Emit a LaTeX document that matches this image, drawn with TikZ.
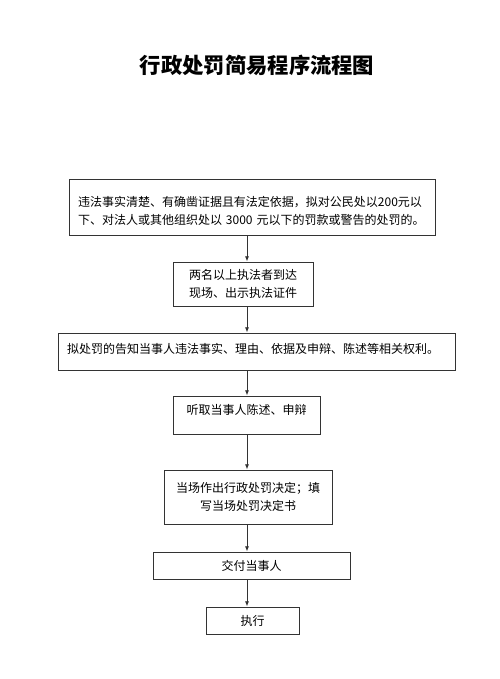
\documentclass[tikz,border=0pt]{standalone}
\usepackage{fontspec}
\setmainfont{Noto Sans CJK SC}
\usetikzlibrary{arrows.meta}

\tikzset{
    stepbox/.style={draw=black!80, line width=0.6pt, inner xsep=6.5pt, font=\fontsize{9}{13.5}\selectfont},
    flow/.style={-{Latex[length=4pt,width=3pt]}, line width=0.6pt, black!80}
}

\begin{document}
\begin{tikzpicture}[x=0.75pt, y=-0.75pt]
    \useasboundingbox (0,0) rectangle (500,679);

    % Title
    \node (title) at (257,65) {\fontsize{16}{16}\selectfont\bfseries 行政处罚简易程序流程图};

    % Boxes
    \node[stepbox, minimum width=274.5pt, minimum height=42pt, text width=261pt, align=left, text depth=9pt] (facts) at (252,207)
        {违法事实清楚、有确凿证据且有法定依据，拟对公民处以200元以\\下、对法人或其他组织处以 3000 元以下的罚款或警告的处罚的。};
    \node[stepbox, minimum width=105pt, minimum height=33pt, align=center] (arrive) at (243,284)
        {两名以上执法者到达\\现场、出示执法证件};
    \node[stepbox, minimum width=297.75pt, minimum height=27.75pt, text width=284pt, align=left, text depth=5pt] (inform) at (256.5,351.5)
        {拟处罚的告知当事人违法事实、理由、依据及申辩、陈述等相关权利。};
    \node[stepbox, minimum width=110.25pt, minimum height=28.5pt, align=center, text depth=9pt] (hear) at (246.5,415)
        {听取当事人陈述、申辩};
    \node[stepbox, minimum width=126pt, minimum height=40.5pt, align=center] (decide) at (248,497)
        {当场作出行政处罚决定；填\\写当场处罚决定书};
    \node[stepbox, minimum width=147.75pt, minimum height=20.25pt] (deliver) at (251.5,565.5)
        {交付当事人};
    \node[stepbox, minimum width=69.75pt, minimum height=20.25pt] (execute) at (252.5,620.5)
        {执行};

    % Arrows
    \coordinate (axis) at (247,0);
    \draw[flow] (facts.south -| axis) -- (arrive.north -| axis);
    \draw[flow] (arrive.south -| axis) -- (inform.north -| axis);
    \draw[flow] (inform.south -| axis) -- (hear.north -| axis);
    \draw[flow] (hear.south -| axis) -- (decide.north -| axis);
    \draw[flow] (decide.south -| axis) -- (deliver.north -| axis);
    \draw[flow] (deliver.south -| axis) -- (execute.north -| axis);
\end{tikzpicture}
\end{document}
